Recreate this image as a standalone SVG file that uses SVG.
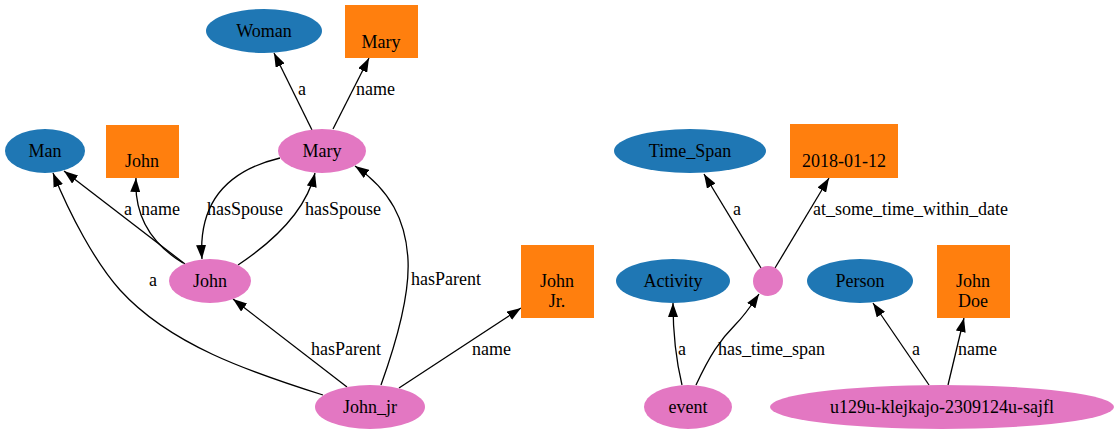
<svg xmlns="http://www.w3.org/2000/svg" width="1120" height="434" viewBox="0 0 1120 434" font-family="'Liberation Serif', 'Times New Roman', Times, serif">
<style>
text{font-family:'Liberation Serif','Times New Roman',Times,serif;font-size:18px;fill:#000}
.n text{text-anchor:middle}
.cls{fill:#1f77b4}
.lit{fill:#ff7f0e}
.ent{fill:#e377c2}
.e path{fill:none;stroke:#000;stroke-width:1.3;marker-end:url(#ah)}
</style>
<defs>
<marker id="ah" markerUnits="userSpaceOnUse" viewBox="0 0 14 10" refX="14" refY="5" markerWidth="14" markerHeight="10" orient="auto">
<path d="M0,0 L14,5 L0,10 z" fill="#000"/>
</marker>
</defs>
<rect width="1120" height="434" fill="#fff"/>
<g id="edges" class="e">
<path d="M312,130 L274,53"/>
<path d="M333,129 L369,58"/>
<path d="M185,264 L64,171"/>
<path d="M183,263 C150,243 134,215 136,178"/>
<path d="M280,158 C230,170 198,200 202,259"/>
<path d="M238,265 C268,245 305,215 315,173"/>
<path d="M323,395 C250,372 170,345 120,290 C95,262 70,215 53,173"/>
<path d="M347,387 L233,299"/>
<path d="M381,385 C390,360 410,300 408,260 C406,220 390,190 355,166"/>
<path d="M399,388 L521,308"/>
<path d="M761,268 L704,174"/>
<path d="M775,268 L829,178"/>
<path d="M682,385 C676,360 673,335 673,303"/>
<path d="M696,385 C710,355 720,340 735,325 C745,315 753,303 759,294"/>
<path d="M929,385 L873,303"/>
<path d="M948,385 L964,318"/>
</g>
<g id="edge-labels">
<text x="298" y="95">a</text>
<text x="356" y="95">name</text>
<text x="124" y="215">a</text>
<text x="141" y="215">name</text>
<text x="207" y="215">hasSpouse</text>
<text x="305" y="215">hasSpouse</text>
<text x="149" y="286">a</text>
<text x="411" y="285">hasParent</text>
<text x="311" y="355">hasParent</text>
<text x="472" y="355">name</text>
<text x="733" y="215">a</text>
<text x="813" y="215">at_some_time_within_date</text>
<text x="678" y="355">a</text>
<text x="718" y="355">has_time_span</text>
<text x="912" y="355">a</text>
<text x="958" y="355">name</text>
</g>
<g id="Woman" class="n"><ellipse class="cls" cx="264" cy="31" rx="58" ry="22"/><text x="264" y="37">Woman</text></g>
<g id="MaryLit" class="n"><rect class="lit" x="345" y="5" width="73" height="53"/><text x="381" y="48">Mary</text></g>
<g id="Man" class="n"><ellipse class="cls" cx="45" cy="151" rx="40" ry="22"/><text x="45" y="157">Man</text></g>
<g id="JohnLit" class="n"><rect class="lit" x="106" y="125" width="73" height="53"/><text x="142" y="167">John</text></g>
<g id="Mary" class="n"><ellipse class="ent" cx="322" cy="151" rx="44" ry="22"/><text x="322" y="157">Mary</text></g>
<g id="Time_Span" class="n"><ellipse class="cls" cx="690" cy="151" rx="76" ry="22"/><text x="690" y="157">Time_Span</text></g>
<g id="DateLit" class="n"><rect class="lit" x="790" y="124" width="108" height="54"/><text x="844" y="167">2018-01-12</text></g>
<g id="John" class="n"><ellipse class="ent" cx="210" cy="281" rx="41" ry="22"/><text x="210" y="287">John</text></g>
<g id="JohnJrLit" class="n"><rect class="lit" x="521" y="245" width="73" height="73"/><text x="557" y="287">John</text><text x="557" y="307">Jr.</text></g>
<g id="Activity" class="n"><ellipse class="cls" cx="673" cy="281" rx="57" ry="22"/><text x="673" y="287">Activity</text></g>
<g id="timespan" class="n"><circle class="ent" cx="768" cy="281" r="15"/></g>
<g id="Person" class="n"><ellipse class="cls" cx="860" cy="281" rx="53" ry="22"/><text x="860" y="287">Person</text></g>
<g id="JohnDoeLit" class="n"><rect class="lit" x="937" y="245" width="73" height="73"/><text x="973" y="287">John</text><text x="973" y="307">Doe</text></g>
<g id="John_jr" class="n"><ellipse class="ent" cx="370" cy="407" rx="55" ry="22"/><text x="370" y="413">John_jr</text></g>
<g id="event" class="n"><ellipse class="ent" cx="688" cy="407" rx="44" ry="22"/><text x="688" y="413">event</text></g>
<g id="u129u" class="n"><ellipse class="ent" cx="942" cy="407" rx="172" ry="22"/><text x="942" y="413">u129u-klejkajo-2309124u-sajfl</text></g>
</svg>
